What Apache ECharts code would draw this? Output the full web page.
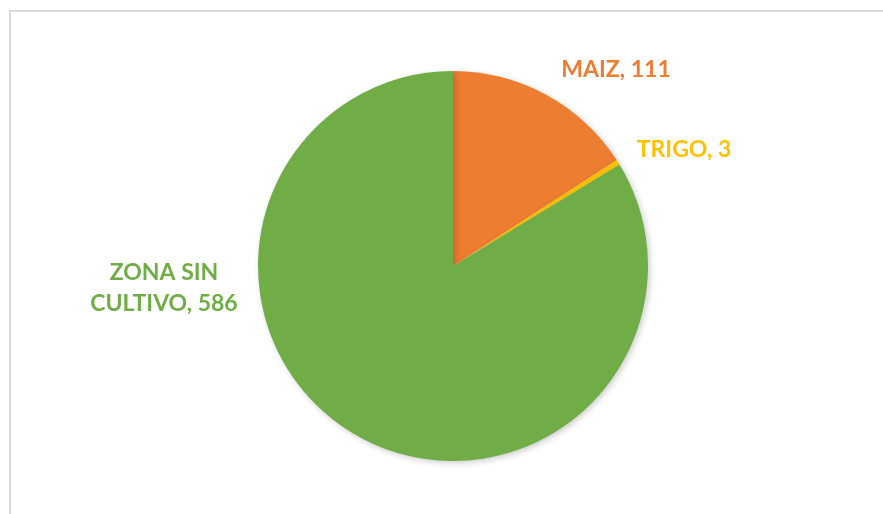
<!DOCTYPE html>
<html>
<head>
<meta charset="utf-8">
<script src="https://cdn.jsdelivr.net/npm/echarts@6/dist/echarts.min.js"></script>
<style>
  html, body { margin: 0; padding: 0; background: #fff; }
  #chart { width: 883px; height: 514px; }
</style>
</head>
<body>
<div id="chart"></div>
<script>
var categories = ['MAIZ', 'TRIGO', 'ZONA SIN\nCULTIVO'];
var values = [111, 3, 586];
var colors = ['#ED7D31', '#FFC000', '#70AD47'];

// where each label sits (centre of text)
var labelSpots = [[616, 70], [684, 150], [164, 288]];

var myChart = echarts.init(document.getElementById('chart'));
var option = {
    animation: false,
    graphic: [{
        type: 'polyline',
        shape: { points: [[10, 520], [10, 11], [890, 11]] },
        style: { stroke: '#d9d9d9', lineWidth: 2, fill: null }
    }],
    series: [{
        type: 'pie',
        center: [453, 266],
        radius: [0, 195],
        startAngle: 90,
        clockwise: true,
        itemStyle: {
            shadowColor: 'rgba(0,0,0,0.2)',
            shadowBlur: 6,
            shadowOffsetX: 2,
            shadowOffsetY: 2
        },
        label: {
            show: true,
            position: 'outside',
            fontFamily: 'Lato',
            fontWeight: 'bold',
            fontSize: 23,
            lineHeight: 31,
            align: 'center',
            formatter: function (p) {
                return p.name + ', ' + p.value;
            }
        },
        labelLine: { show: false },
        labelLayout: function (p) {
            var s = labelSpots[p.dataIndex];
            return { x: s[0], y: s[1], align: 'center', verticalAlign: 'middle' };
        },
        emphasis: { disabled: true },
        data: categories.map(function (c, i) {
            return {
                name: c,
                value: values[i],
                itemStyle: { color: colors[i] },
                label: { color: colors[i] }
            };
        })
    }]
};
myChart.setOption(option);
window.addEventListener('resize', function () {
    myChart.resize();
});
</script>
</body>
</html>
